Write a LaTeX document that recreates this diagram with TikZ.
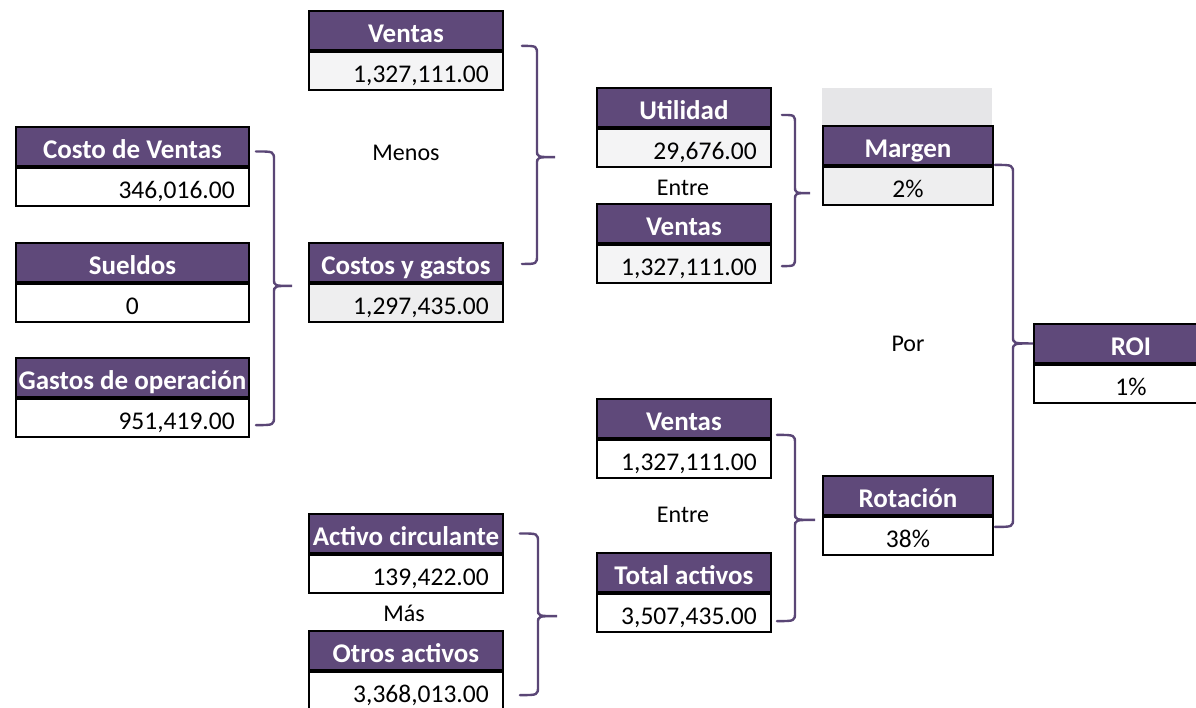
\documentclass[tikz,border=0pt]{standalone}
\usepackage{fontspec}
\setmainfont{Carlito}
\usetikzlibrary{calc}
\definecolor{hdrpurple}{HTML}{5F497A}
\definecolor{brcpurple}{HTML}{5A4676}
\definecolor{bandgray}{HTML}{E6E6E8}
\definecolor{cellgray}{HTML}{EEEEEF}
\definecolor{cellgrayb}{HTML}{F4F4F5}
\tikzset{
  hdr/.style={draw=black, line width=1.9pt, fill=hdrpurple, text=white,
    font=\fontsize{27}{30}\selectfont\bfseries, anchor=north west,
    minimum height=39pt, inner sep=0pt, text height=24pt, text depth=0pt},
  valbox/.style={draw=black, line width=1.9pt, anchor=north west,
    minimum height=38.5pt, inner sep=0pt},
  valtxt/.style={font=\fontsize{25.5}{28}\selectfont, inner sep=0pt, text=black},
  optxt/.style={font=\fontsize{24}{28}\selectfont, inner sep=0pt, text=black, anchor=base},
  brc/.style={draw=brcpurple, line width=2.4pt, line cap=round}
}
% name, x, y, width, header, value, value fill
\newcommand\kboxR[7]{%
  \node[hdr, minimum width=#4pt] (#1h) at (#2pt,-#3pt) {#5};
  \node[valbox, minimum width=#4pt, fill=#7] (#1v) at (#1h.south west) {};
  \node[valtxt, anchor=base east] (#1t) at ($(#1v.south east)+(-15pt,9pt)$) {#6};
}
\newcommand\kboxC[7]{%
  \node[hdr, minimum width=#4pt] (#1h) at (#2pt,-#3pt) {#5};
  \node[valbox, minimum width=#4pt, fill=#7] (#1v) at (#1h.south west) {};
  \node[valtxt, anchor=base] (#1t) at ($(#1v.south)+(0,9pt)$) {#6};
}
% top end, bottom end, tip, offset of vertical from tip
\newcommand\kbrace[4]{%
  \draw[brc] let \p1=(#1), \p2=(#2), \p3=(#3), \p4=($(#3)+(-#4pt,0)$) in
    (\p1) .. controls (\x4,\y1) .. (\x4,\y1-9pt) -- (\x4,\y3+7pt)
    .. controls (\x4,\y3) .. (\p3)
    .. controls (\x4,\y3) .. (\x4,\y3-7pt) -- (\x4,\y2+9pt)
    .. controls (\x4,\y2) .. (\p2);
}
\begin{document}
\begin{tikzpicture}[x=1pt,y=1pt]
\useasboundingbox (0,0) rectangle (1196,-707);
\clip (0,0) rectangle (1196,-707);
\fill[white] (0,0) rectangle (1196,-707);
% gray band above Margen
\fill[bandgray] (822,-88) rectangle (992,-125);

% left column
\kboxR{cv}{15}{126}{233}{Costo de Ventas}{346,016.00}{white}
\kboxC{su}{15}{242}{233}{Sueldos}{0}{white}
\kboxR{go}{15}{357}{233}{Gastos de operación}{951,419.00}{white}
% second column
\kboxR{vt}{308}{10}{194}{Ventas}{1,327,111.00}{cellgrayb}
\kboxR{cg}{308}{242}{194}{Costos y gastos}{1,297,435.00}{cellgray}
\kboxR{ac}{308}{513}{194}{Activo circulante}{139,422.00}{white}
\kboxR{oa}{308}{630}{194}{Otros activos}{3,368,013.00}{white}
% third column
\kboxR{ut}{596}{87}{174}{Utilidad}{29,676.00}{cellgrayb}
\kboxR{vm}{596}{203}{174}{Ventas}{1,327,111.00}{cellgrayb}
\kboxR{vb}{596}{398}{174}{Ventas}{1,327,111.00}{white}
\kboxR{ta}{596}{552}{174}{Total activos}{3,507,435.00}{white}
% fourth column
\kboxC{mg}{822}{125}{170}{Margen}{2\%}{cellgray}
\kboxC{ro}{822}{475}{170}{Rotación}{38\%}{white}
% ROI
\kboxC{roi}{1033}{323}{194}{ROI}{1\%}{white}

% operation words
\node[optxt] (menos) at (406,-160) {Menos};
\node[optxt] (entre1) at (683,-195) {Entre};
\node[optxt] (entre2) at (683,-522) {Entre};
\node[optxt] (mas) at (404,-621) {Más};
\node[optxt] (por) at (908,-351) {Por};

% braces
\kbrace{$(cvh.east)+(6pt,-5pt)$}{$(gov.east)+(6pt,-7pt)$}{$(cgh.south west)+(-16pt,-3pt)$}{18}
\kbrace{$(vth.south east)+(18pt,5pt)$}{$(cgh.east)+(18pt,-1.5pt)$}{$(utv.west)+(-41pt,-9pt)$}{18}
\kbrace{$(uth.east)+(10pt,-7.5pt)$}{$(vmv.east)+(10pt,-2pt)$}{$(mgv.west)+(-12pt,-7pt)$}{15}
\kbrace{$(vbh.south east)+(5pt,4pt)$}{$(tav.east)+(5pt,-8pt)$}{$(roh.south west)+(-7pt,-4pt)$}{20}
\kbrace{$(ach.east)+(16pt,0pt)$}{$(oav.east)+(16pt,-4pt)$}{$(tav.west)+(-39pt,-3pt)$}{19}
\kbrace{$(mgh.south east)+(1pt,1pt)$}{$(roh.south east)+(1pt,-11pt)$}{roih.west}{20}
\end{tikzpicture}
\end{document}
